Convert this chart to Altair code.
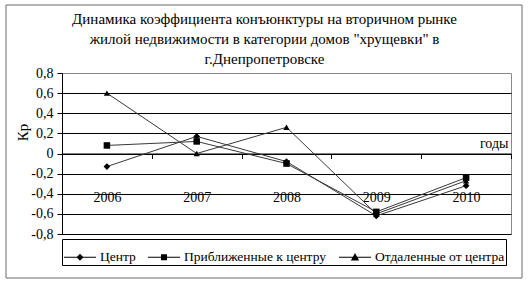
import altair as alt
import pandas as pd

years = ["2006", "2007", "2008", "2009", "2010"]
series_names = ["Центр", "Приближенные к центру", "Отдаленные от центра"]
centr = [-0.13, 0.17, -0.08, -0.62, -0.32]
pribl = [0.08, 0.12, -0.10, -0.58, -0.24]
otdal = [0.60, 0.00, 0.26, -0.60, -0.27]
y_ticks = [-0.8, -0.6, -0.4, -0.2, 0.0, 0.2, 0.4, 0.6, 0.8]
title_lines = [
    "Динамика коэффициента конъюнктуры на вторичном рынке",
    "жилой недвижимости в категории домов \"хрущевки\" в",
    "г.Днепропетровске",
]

rows = []
for name, vals in zip(series_names, [centr, pribl, otdal]):
    for yr, v in zip(years, vals):
        rows.append({"year": yr, "series": name, "value": v})
df = pd.DataFrame(rows)

FONT = "Liberation Serif"
W, H = 449, 161

x_enc = alt.X(
    "year:O",
    bandPosition=0.5,
    scale=alt.Scale(type="band", paddingInner=0, paddingOuter=0, domain=years),
    axis=alt.Axis(
        title="годы",
        orient="bottom",
        offset=-H / 2,
        tickBand="extent",
        tickSize=5,
        tickColor="black",
        domainColor="black",
        labelPadding=32,
        labelAngle=0,
        labelFont=FONT,
        labelFontSize=14,
        labelColor="black",
        titleFont=FONT,
        titleFontSize=14,
        titleFontWeight="normal",
        titleColor="black",
        titleX=446,
        titleY=-3,
        titleAlign="right",
        titleBaseline="bottom",
        grid=False,
    ),
)

y_enc = alt.Y(
    "value:Q",
    scale=alt.Scale(domain=[-0.8, 0.8], nice=False, zero=False),
    axis=alt.Axis(
        title="Кр",
        values=y_ticks,
        labelExpr="replace(replace(format(datum.value, '.1f'), '.', ','), '\u2212', '-') == '0,0' ? '0' : replace(replace(format(datum.value, '.1f'), '.', ','), '\u2212', '-')",
        tickSize=5,
        tickColor="black",
        domainColor="black",
        labelPadding=4,
        labelFont=FONT,
        labelFontSize=14,
        labelColor="black",
        titleFont=FONT,
        titleFontSize=15,
        titleFontWeight="normal",
        titleColor="black",
        titleX=-40,
        titleY=59,
        titleAngle=-90,
        titleAlign="center",
        titleBaseline="middle",
        grid=True,
        gridColor="black",
        gridWidth=1,
        gridOpacity={"condition": {"test": "datum.value >= 0.79", "value": 0}, "value": 1},
    ),
)

base = alt.Chart(df)

lines = base.mark_line(color="#383838", strokeWidth=1).encode(
    x=x_enc, y=y_enc, detail="series:N"
)

points = base.mark_point(filled=True, color="black", opacity=1).encode(
    x=x_enc,
    y=y_enc,
    shape=alt.Shape(
        "series:N",
        scale=alt.Scale(domain=series_names, range=["diamond", "square", "triangle-up"]),
        legend=None,
    ),
    size=alt.Size(
        "series:N",
        scale=alt.Scale(domain=series_names, range=[45, 40, 55]),
        legend=None,
    ),
)

bar = "M-1,-0.035L1,-0.035L1,0.035L-1,0.035Z"
legend_paths = [
    bar + "M0,-0.22L0.22,0L0,0.22L-0.22,0Z",
    bar + "M-0.19,-0.19L0.19,-0.19L0.19,0.19L-0.19,0.19Z",
    bar + "M0,-0.26L0.26,0.2L-0.26,0.2Z",
]

legend_layer = base.mark_point(
    filled=True, fill="black", opacity=1
).encode(
    x=x_enc,
    y=y_enc,
    shape=alt.Shape(
        "series:N",
        scale=alt.Scale(domain=series_names, range=legend_paths),
        legend=alt.Legend(
            title=None,
            orient="none",
            legendX=0,
            legendY=166,
            direction="horizontal",
            columns=3,
            symbolSize=1024,
            symbolFillColor="black",
            symbolOpacity=1,
            labelFont=FONT,
            labelFontSize=13.5,
            labelColor="black",
            labelOffset=3,
            labelLimit=300,
            columnPadding=9,
            padding=1,
            strokeColor="black",
            fillColor="white",
        ),
    ),
).transform_filter("false")

frame = alt.Chart(alt.Data(values=[{}])).mark_rect(
    fill=None, stroke="#6a6a6a", strokeWidth=1
).encode(
    x=alt.value(-56), x2=alt.value(460), y=alt.value(-68), y2=alt.value(205)
)

chart = alt.layer(frame, lines, points, legend_layer).resolve_scale(
    shape="independent"
).properties(
    width=W,
    height=H,
    padding={"left": 62, "top": 73, "right": 18, "bottom": 47},
    autosize=alt.AutoSizeParams(type="none"),
    title=alt.TitleParams(
        text=title_lines,
        font=FONT,
        fontSize=15,
        fontWeight="normal",
        color="black",
        lineHeight=20,
        anchor="middle",
        dx=-22,
        offset=-62,
    ),
    background="white",
).configure_view(stroke="#8a8a8a", strokeWidth=1)

chart.save("out.html", embed_options={"renderer": "svg", "actions": False})
